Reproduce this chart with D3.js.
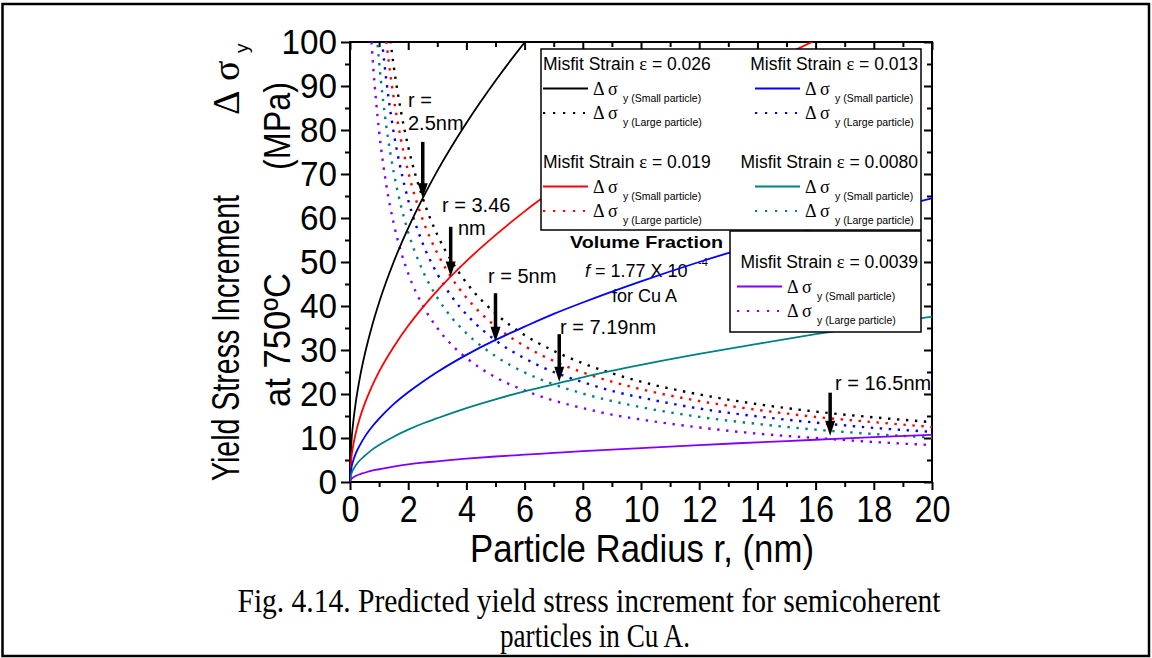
<!DOCTYPE html>
<html><head><meta charset="utf-8">
<script src="https://cdn.jsdelivr.net/npm/d3@7"></script>
<style>body{margin:0;background:#fff}svg{display:block}</style>
</head><body><svg id="chart" width="1152" height="658"></svg>
<script>
// Particle radius grid (nm) for the small-particle (solid) curves
const radiusSmall = [0,0.05,0.1,0.2,0.35,0.5,0.75,1,1.5,2,2.5,3,4,5,6,7,8,10,12,14,16,18,20];
// Yield stress increment (MPa), small-particle regime, one array per misfit strain
const smallE026  = [0,9.1,12.9,18.2,24.1,28.8,35.3,40.8,50.0,57.7,64.5,70.7,81.6,91.2,99.9,107.9,null,null,null,null,null,null,null];
const smallE019  = [0,5.6,7.9,11.2,14.8,17.7,21.7,25.1,30.7,35.5,39.7,43.5,50.2,56.1,61.5,66.4,71.0,79.4,86.9,93.9,100.4,106.5,null];
const smallE013  = [0,3.2,4.6,6.5,8.5,10.2,12.5,14.4,17.7,20.4,22.8,25.0,28.9,32.3,35.3,38.2,40.8,45.6,50.0,54.0,57.7,61.2,64.5];
const smallE0080 = [0,1.9,2.7,3.8,5.0,5.9,7.3,8.4,10.3,11.9,13.3,14.5,16.8,18.8,20.6,22.2,23.8,26.6,29.1,31.4,33.6,35.6,37.6];
const smallE0039 = [0,0.7,1.0,1.4,1.8,2.1,2.6,2.9,3.5,4.0,4.4,4.7,5.3,5.8,6.2,6.6,7.0,7.7,8.4,9.0,9.6,10.2,10.7];

// Particle radius grid (nm) for the large-particle (dotted) curves
const radiusLarge = [0.7,0.8,0.9,1,1.25,1.5,1.75,2,2.5,3,3.5,4,5,6,7,8,9,10,12,14,16,18,20];
const largeE026  = [null,null,null,null,108.4,94.6,84.3,76.2,64.5,56.2,50.1,45.3,38.3,33.4,29.8,27.0,24.7,22.8,19.9,17.7,16.0,14.7,13.6];
const largeE019  = [null,null,null,118.5,100.2,87.4,77.9,70.5,59.6,52.0,46.3,41.9,35.4,30.9,27.5,24.9,22.8,21.1,18.4,16.4,14.8,13.6,12.5];
const largeE013  = [null,null,116.7,107.8,91.2,79.5,70.9,64.1,54.2,47.3,42.1,38.1,32.2,28.1,25.0,22.7,20.7,19.2,16.7,14.9,13.5,12.3,11.4];
const largeE0080 = [null,null,103.4,95.5,80.8,70.5,62.8,56.8,48.0,41.9,37.3,33.8,28.6,24.9,22.2,20.1,18.4,17.0,14.8,13.2,11.9,10.9,10.1];
const largeE0039 = [104.1,94.2,86.3,79.7,67.4,58.8,52.4,47.4,40.1,35.0,31.1,28.2,23.8,20.8,18.5,16.8,15.3,14.2,12.4,11.0,10.0,9.1,8.4];

const strainLabels = ["0.026","0.019","0.013","0.0080","0.0039"];
const seriesColors = ["#000000","#ff0000","#0000ff","#008080","#8000ff"];

// Cross-over radii marked with arrows, and the stress range each arrow spans
const crossRadius = [2.5,3.46,5,7.19,16.5];
const arrowTopStress = [77.3,58.0,42.9,33.6,20.3];
const arrowTipStress = [64.5,46.7,31.9,22.8,10.5];

const xTicks = [0,2,4,6,8,10,12,14,16,18,20];
const yTicks = [0,10,20,30,40,50,60,70,80,90,100];

const SANS = "'Liberation Sans', Arial, sans-serif";
const SERIF = "'Liberation Serif', 'Times New Roman', serif";

const svg = d3.select("#chart");
const x = d3.scaleLinear().domain([0,20]).range([350,932]);
const y = d3.scaleLinear().domain([0,100]).range([482,42]);

// outer figure frame
svg.append("rect").attr("x",2.5).attr("y",4).attr("width",1146.5).attr("height",652)
  .attr("fill","none").attr("stroke","#000").attr("stroke-width",2.5);

// axes
function styleAxis(g){
  g.select(".domain").remove();
  g.selectAll("line").attr("stroke","#000").attr("stroke-width",2);
}
const minorX = d3.range(1,20,2), minorY = d3.range(5,100,10);

const gx = svg.append("g").attr("transform","translate(0,482)")
  .call(d3.axisBottom(x).tickValues(xTicks).tickSize(8).tickPadding(6).tickFormat(d3.format("d")));
styleAxis(gx);
gx.selectAll("text").attr("font-family",SANS).attr("font-size",37).attr("fill","#000")
  .attr("textLength",d=>String(d).length*18).attr("lengthAdjust","spacingAndGlyphs");
svg.append("g").attr("transform","translate(0,482)")
  .call(d3.axisBottom(x).tickValues(minorX).tickSize(5).tickFormat("")).call(styleAxis);

const gy = svg.append("g").attr("transform","translate(350,0)")
  .call(d3.axisLeft(y).tickValues(yTicks).tickSize(9).tickPadding(4).tickFormat(d3.format("d")));
styleAxis(gy);
gy.selectAll("text").attr("font-family",SANS).attr("font-size",35).attr("fill","#000")
  .attr("textLength",d=>String(d).length*18.5).attr("lengthAdjust","spacingAndGlyphs");
svg.append("g").attr("transform","translate(350,0)")
  .call(d3.axisLeft(y).tickValues(minorY).tickSize(5).tickFormat("")).call(styleAxis);

svg.append("g").attr("transform","translate(0,42)")
  .call(d3.axisTop(x).tickValues(xTicks).tickSize(-8).tickFormat("")).call(styleAxis);
svg.append("g").attr("transform","translate(0,42)")
  .call(d3.axisTop(x).tickValues(minorX).tickSize(-5).tickFormat("")).call(styleAxis);
svg.append("g").attr("transform","translate(932,0)")
  .call(d3.axisRight(y).tickValues(yTicks).tickSize(-8).tickFormat("")).call(styleAxis);
svg.append("g").attr("transform","translate(932,0)")
  .call(d3.axisRight(y).tickValues(minorY).tickSize(-5).tickFormat("")).call(styleAxis);

// plot frame
svg.append("rect").attr("x",350).attr("y",42).attr("width",582).attr("height",440)
  .attr("fill","none").attr("stroke","#000").attr("stroke-width",2);

// axis titles
svg.append("text").attr("x",642).attr("y",562).attr("text-anchor","middle")
  .attr("font-family",SANS).attr("font-size",38).attr("textLength",344).attr("lengthAdjust","spacingAndGlyphs")
  .text("Particle Radius r, (nm)");

const yt = svg.append("g").attr("transform","translate(239,481) rotate(-90)").attr("font-family",SANS);
yt.append("text").attr("x",0).attr("y",0).attr("font-size",38)
  .attr("textLength",286).attr("lengthAdjust","spacingAndGlyphs").text("Yield Stress Increment");
yt.append("text").attr("x",366).attr("y",0).attr("font-size",38).attr("font-family",SERIF).text("Δ");
yt.append("text").attr("x",400).attr("y",0).attr("font-size",38).attr("font-family",SERIF).text("σ");
yt.append("text").attr("x",428).attr("y",9).attr("font-size",19).text("y");
const yt2 = svg.append("g").attr("transform","translate(290,481) rotate(-90)").attr("font-family",SANS).attr("font-size",37);
yt2.append("text").attr("x",74).attr("y",0).attr("textLength",134).attr("lengthAdjust","spacingAndGlyphs").text("at 750ºC");
yt2.append("text").attr("x",311).attr("y",0).attr("textLength",88).attr("lengthAdjust","spacingAndGlyphs").text("(MPa)");

// volume fraction note (beneath the curves)
svg.append("text").attr("x",570).attr("y",248).attr("font-family",SANS).attr("font-weight","bold")
  .attr("font-size",17).attr("textLength",153).attr("lengthAdjust","spacingAndGlyphs").text("Volume Fraction");
const vf = svg.append("text").attr("x",585).attr("y",277).attr("font-family",SANS).attr("font-size",18);
vf.append("tspan").attr("font-style","italic").text("f");
vf.append("tspan").text(" = 1.77 X 10");
svg.append("text").attr("x",698).attr("y",266).attr("font-family",SANS).attr("font-size",11).text("-4");
svg.append("text").attr("x",612).attr("y",302).attr("font-family",SANS).attr("font-size",18).text("for Cu A");

// curves
svg.append("clipPath").attr("id","plotClip").append("rect")
  .attr("x",350).attr("y",42).attr("width",582).attr("height",440);
const plot = svg.append("g").attr("clip-path","url(#plotClip)");
const smallSeries = [smallE026,smallE019,smallE013,smallE0080,smallE0039];
const largeSeries = [largeE026,largeE019,largeE013,largeE0080,largeE0039];
const line = d3.line().defined(d=>d[1]!=null).x(d=>x(d[0])).y(d=>y(d[1])).curve(d3.curveMonotoneX);

largeSeries.forEach((vals,i)=>{
  plot.append("path").datum(radiusLarge.map((r,j)=>[r,vals[j]]))
    .attr("d",line).attr("fill","none").attr("stroke",seriesColors[i])
    .attr("stroke-width",2.4).attr("stroke-dasharray","2.4,6.6");
});
smallSeries.forEach((vals,i)=>{
  plot.append("path").datum(radiusSmall.map((r,j)=>[r,vals[j]]))
    .attr("d",line).attr("fill","none").attr("stroke",seriesColors[i]).attr("stroke-width",1.8);
});

// legends
function entry(g, x0, yLine, color, dotted){
  g.append("line").attr("x1",x0).attr("x2",x0+(dotted?42:45)).attr("y1",yLine).attr("y2",yLine)
    .attr("stroke",color).attr("stroke-width",dotted?2.2:2)
    .attr("stroke-dasharray",dotted?"2.2,7.8":null);
  g.append("text").attr("x",x0+50).attr("y",yLine+6).attr("font-family",SERIF).attr("font-size",18).text("Δ σ");
  g.append("text").attr("x",x0+80).attr("y",yLine+13).attr("font-family",SANS).attr("font-size",10.5)
    .text(dotted?"y (Large particle)":"y (Small particle)");
}
function header(g, xPos, yBase, strain, anchor){
  const t = g.append("text").attr("x",xPos).attr("y",yBase).attr("font-family",SANS).attr("font-size",17.5)
    .attr("text-anchor",anchor);
  t.append("tspan").text("Misfit Strain ");
  t.append("tspan").attr("font-family",SERIF).attr("font-size",18.5).text("ε");
  t.append("tspan").text(" = "+strain);
}
const leg = svg.append("g");
leg.append("rect").attr("x",541).attr("y",49).attr("width",380).attr("height",181)
  .attr("fill","#fff").attr("stroke","#000").attr("stroke-width",1.5);
leg.append("rect").attr("x",730).attr("y",231).attr("width",191).attr("height",101)
  .attr("fill","#fff").attr("stroke","#000").attr("stroke-width",1.5);
const blocks = [
  {col:543, hx:543, anchor:"start", top:70},
  {col:755, hx:918, anchor:"end", top:70},
  {col:543, hx:543, anchor:"start", top:168},
  {col:755, hx:918, anchor:"end", top:168},
  {col:737, hx:918, anchor:"end", top:268}
];
const blockOrder = [0,2,1,3,4];
blocks.forEach((b,k)=>{
  const i = blockOrder[k];
  header(leg, b.hx, b.top, strainLabels[i], b.anchor);
  entry(leg, b.col, b.top+18.5, seriesColors[i], false);
  entry(leg, b.col, b.top+43, seriesColors[i], true);
});

// arrows marking the cross-over radii
const ann = svg.append("g");
crossRadius.forEach((r,i)=>{
  const ax = x(r), top = y(arrowTopStress[i]), tip = y(arrowTipStress[i]);
  ann.append("line").attr("x1",ax).attr("x2",ax).attr("y1",top).attr("y2",tip-12)
    .attr("stroke","#000").attr("stroke-width",3.5);
  ann.append("path").attr("d",`M${ax-5},${tip-15}L${ax+5},${tip-15}L${ax},${tip}Z`).attr("fill","#000");
});
const annText = [
  {t:"r =", x:408, y:107}, {t:"2.5nm", x:408, y:130},
  {t:"r = 3.46", x:442, y:212}, {t:"nm", x:458, y:235},
  {t:"r = 5nm", x:488, y:283}, {t:"r = 7.19nm", x:560, y:334},
  {t:"r = 16.5nm", x:835, y:390}
];
annText.forEach(a=>ann.append("text").attr("x",a.x).attr("y",a.y).attr("font-family",SANS)
  .attr("font-size",20).text(a.t));

// caption
svg.append("text").attr("x",589).attr("y",612).attr("text-anchor","middle").attr("font-family",SERIF)
  .attr("font-size",33).attr("textLength",703).attr("lengthAdjust","spacingAndGlyphs")
  .text("Fig. 4.14. Predicted yield stress increment for semicoherent");
svg.append("text").attr("x",595).attr("y",647).attr("text-anchor","middle").attr("font-family",SERIF)
  .attr("font-size",33).attr("textLength",190).attr("lengthAdjust","spacingAndGlyphs")
  .text("particles in Cu A.");
</script></body></html>
